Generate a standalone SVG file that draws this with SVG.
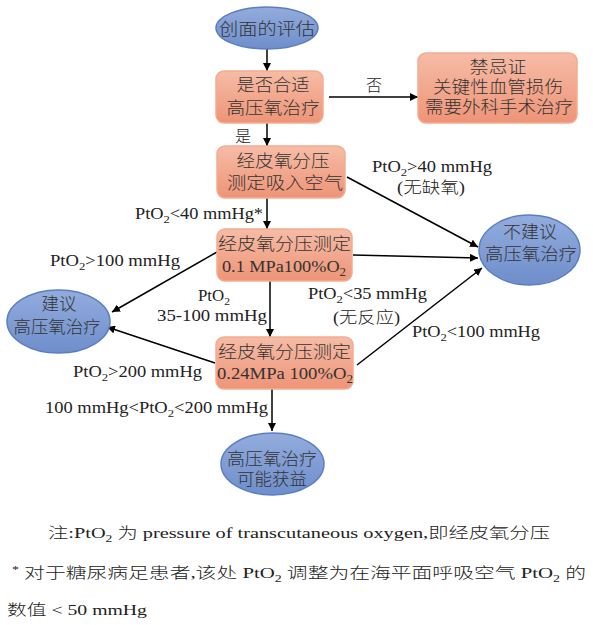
<svg xmlns="http://www.w3.org/2000/svg" width="593" height="625" viewBox="0 0 593 625">
<defs>
<linearGradient id="gBox" x1="0" y1="0" x2="0" y2="1">
<stop offset="0" stop-color="#F6BCA6"/>
<stop offset="1" stop-color="#EE9477"/>
</linearGradient>
<linearGradient id="gEll" x1="0" y1="0" x2="0" y2="1">
<stop offset="0" stop-color="#93ACDD"/>
<stop offset="1" stop-color="#6E8ECB"/>
</linearGradient>
<marker id="arr" viewBox="0 0 10 10" refX="10" refY="5" markerWidth="8" markerHeight="8" markerUnits="userSpaceOnUse" orient="auto">
<path d="M0,0 L10,5 L0,10 z" fill="#000"/>
</marker>
<style>
.box{fill:url(#gBox);stroke:#F3AC92;stroke-width:1.5}
.ell{fill:url(#gEll);stroke:#5B7EC2;stroke-width:1.5}
.t{font-family:"Liberation Serif","Noto Sans CJK SC",serif;font-size:17px;font-weight:300;fill:#333;text-anchor:middle}
.l{font-family:"Liberation Serif","Noto Sans CJK SC",serif;font-size:16px;font-weight:300;fill:#222}
.n{font-family:"Liberation Serif","Noto Sans CJK SC",serif;font-size:15px;font-weight:300;fill:#222}
.c line{stroke:#000;stroke-width:1.5;marker-end:url(#arr)}
</style>
</defs>
<rect width="593" height="625" fill="#fff"/>

<g class="c" id="connectors">
<line x1="267" y1="49" x2="267" y2="71"/>
<line x1="329" y1="97" x2="418" y2="97"/>
<line x1="267" y1="123" x2="267" y2="146"/>
<line x1="347" y1="177" x2="478" y2="247"/>
<line x1="267" y1="198" x2="267" y2="229"/>
<line x1="353" y1="255" x2="478" y2="258"/>
<line x1="217" y1="252" x2="112" y2="312"/>
<line x1="270" y1="281" x2="270" y2="337"/>
<line x1="215" y1="363" x2="107" y2="327"/>
<line x1="357" y1="365" x2="482" y2="268"/>
<line x1="272" y1="389" x2="272" y2="431"/>
</g>

<g id="start">
<ellipse class="ell" cx="267" cy="28" rx="51" ry="21"/>
<text class="t" x="267" y="35" textLength="96" lengthAdjust="spacingAndGlyphs">创面的评估</text>
</g>

<g id="suitable">
<rect class="box" x="216" y="71" width="107" height="52" rx="8"/>
<text class="t" x="273" y="91" textLength="73" lengthAdjust="spacingAndGlyphs">是否合适</text>
<text class="t" x="273" y="114" textLength="93" lengthAdjust="spacingAndGlyphs">高压氧治疗</text>
</g>

<g id="contra">
<rect class="box" x="418" y="53" width="159" height="70" rx="8"/>
<text class="t" x="498" y="73" textLength="57" lengthAdjust="spacingAndGlyphs">禁忌证</text>
<text class="t" x="498" y="93" textLength="130" lengthAdjust="spacingAndGlyphs">关键性血管损伤</text>
<text class="t" x="499" y="113" textLength="148" lengthAdjust="spacingAndGlyphs">需要外科手术治疗</text>
</g>

<g id="air">
<rect class="box" x="217" y="146" width="128" height="52" rx="8"/>
<text class="t" x="283" y="167" textLength="93" lengthAdjust="spacingAndGlyphs">经皮氧分压</text>
<text class="t" x="285" y="189" textLength="116" lengthAdjust="spacingAndGlyphs">测定吸入空气</text>
</g>

<g id="o2-01">
<rect class="box" x="217" y="229" width="135" height="52" rx="8"/>
<text class="t" x="284.5" y="250" textLength="133" lengthAdjust="spacingAndGlyphs">经皮氧分压测定</text>
<text class="t" x="284" y="272" textLength="124" lengthAdjust="spacingAndGlyphs">0.1 MPa100%O<tspan font-size="12" dy="4">2</tspan></text>
</g>

<g id="o2-024">
<rect class="box" x="216" y="337" width="137" height="52" rx="8"/>
<text class="t" x="284.5" y="358" textLength="133" lengthAdjust="spacingAndGlyphs">经皮氧分压测定</text>
<text class="t" x="285" y="379" textLength="136" lengthAdjust="spacingAndGlyphs">0.24MPa 100%O<tspan font-size="12" dy="4">2</tspan></text>
</g>

<g id="recommend">
<ellipse class="ell" cx="58.5" cy="321.5" rx="51.5" ry="31.5"/>
<text class="t" x="59" y="310" textLength="35" lengthAdjust="spacingAndGlyphs">建议</text>
<text class="t" x="57" y="333" textLength="87" lengthAdjust="spacingAndGlyphs">高压氧治疗</text>
</g>

<g id="notrecommend">
<ellipse class="ell" cx="529.5" cy="250" rx="50.5" ry="35"/>
<text class="t" x="530" y="238" textLength="54" lengthAdjust="spacingAndGlyphs">不建议</text>
<text class="t" x="531" y="260" textLength="92" lengthAdjust="spacingAndGlyphs">高压氧治疗</text>
</g>

<g id="benefit">
<ellipse class="ell" cx="272.5" cy="464" rx="51.5" ry="31"/>
<text class="t" x="272" y="465" textLength="90" lengthAdjust="spacingAndGlyphs">高压氧治疗</text>
<text class="t" x="272" y="485" textLength="70" lengthAdjust="spacingAndGlyphs">可能获益</text>
</g>

<g id="labels">
<text class="l" x="374" y="91" text-anchor="middle">否</text>
<text class="l" x="243" y="142" text-anchor="middle">是</text>
<text class="l" x="372" y="172" textLength="120" lengthAdjust="spacingAndGlyphs">PtO<tspan font-size="11" dy="4">2</tspan><tspan dy="-4">&gt;40 mmHg</tspan></text>
<text class="l" x="397" y="193" textLength="68" lengthAdjust="spacingAndGlyphs">(无缺氧)</text>
<text class="l" x="135" y="219" textLength="128" lengthAdjust="spacingAndGlyphs">PtO<tspan font-size="11" dy="4">2</tspan><tspan dy="-4">&lt;40 mmHg*</tspan></text>
<text class="l" x="50" y="266" textLength="130" lengthAdjust="spacingAndGlyphs">PtO<tspan font-size="11" dy="4">2</tspan><tspan dy="-4">&gt;100 mmHg</tspan></text>
<text class="l" x="198" y="301" textLength="32" lengthAdjust="spacingAndGlyphs">PtO<tspan font-size="11" dy="4">2</tspan></text>
<text class="l" x="157" y="321" textLength="110" lengthAdjust="spacingAndGlyphs">35-100 mmHg</text>
<text class="l" x="308" y="299" textLength="119" lengthAdjust="spacingAndGlyphs">PtO<tspan font-size="11" dy="4">2</tspan><tspan dy="-4">&lt;35 mmHg</tspan></text>
<text class="l" x="333" y="323" textLength="67" lengthAdjust="spacingAndGlyphs">(无反应)</text>
<text class="l" x="412" y="337" textLength="128" lengthAdjust="spacingAndGlyphs">PtO<tspan font-size="11" dy="4">2</tspan><tspan dy="-4">&lt;100 mmHg</tspan></text>
<text class="l" x="73" y="377" textLength="129" lengthAdjust="spacingAndGlyphs">PtO<tspan font-size="11" dy="4">2</tspan><tspan dy="-4">&gt;200 mmHg</tspan></text>
<text class="l" x="45" y="413" textLength="223" lengthAdjust="spacingAndGlyphs">100 mmHg&lt;PtO<tspan font-size="11" dy="4">2</tspan><tspan dy="-4">&lt;200 mmHg</tspan></text>
</g>

<g id="notes">
<text class="n" x="48" y="538" textLength="502" lengthAdjust="spacingAndGlyphs">注:PtO<tspan font-size="10" dy="4">2</tspan><tspan dy="-4"> 为 pressure of transcutaneous oxygen,即经皮氧分压</tspan></text>
<text class="n" x="12" y="578" textLength="574" lengthAdjust="spacingAndGlyphs"><tspan font-size="10" dy="-5">*</tspan><tspan dy="5"> 对于糖尿病足患者,该处 PtO</tspan><tspan font-size="10" dy="4">2</tspan><tspan dy="-4"> 调整为在海平面呼吸空气 PtO</tspan><tspan font-size="10" dy="4">2</tspan><tspan dy="-4"> 的</tspan></text>
<text class="n" x="7" y="615" textLength="140" lengthAdjust="spacingAndGlyphs">数值 &lt; 50 mmHg</text>
</g>
</svg>
